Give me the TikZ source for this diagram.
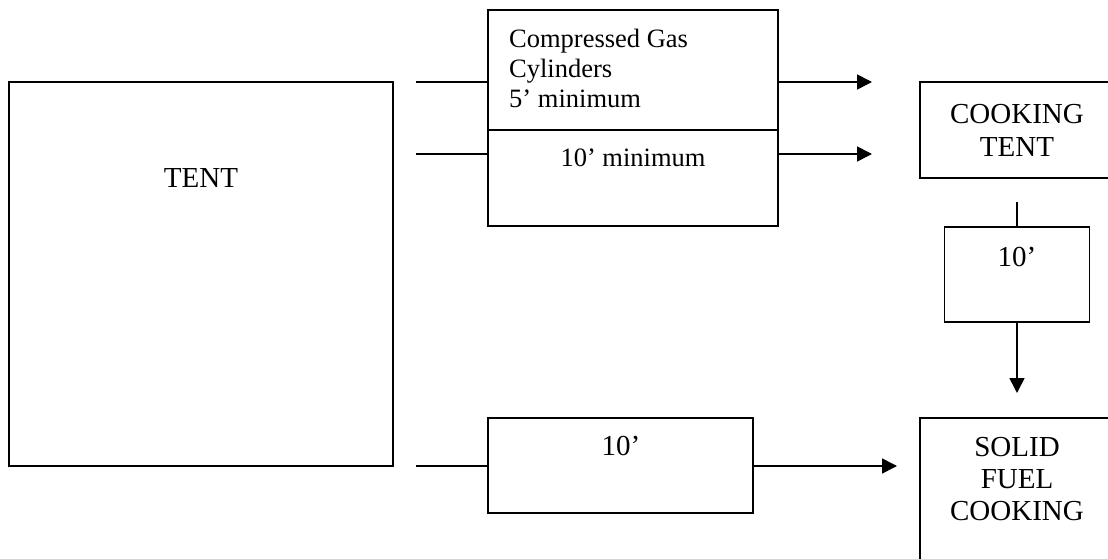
\documentclass[tikz,border=0pt]{standalone}
\usepackage{fontspec}
\setmainfont{Liberation Serif}
\usetikzlibrary{arrows.meta, positioning}
\definecolor{lineMain}{RGB}{0,0,0}
\tikzset{
  planBox/.style={
    draw=lineMain,
    line width=1.6pt,
    inner sep=0pt,
    align=center,
    font=\fontsize{29}{33}\selectfont
  },
  planLabel/.style={inner sep=0pt, align=center, font=\fontsize{29}{32}\selectfont},
  smallLabel/.style={planLabel, font=\fontsize{26.5}{30}\selectfont},
  planLine/.style={draw=lineMain, line width=1.6pt},
  planFlow/.style={planLine, -{Triangle[length=15pt,width=15pt]}}
}
\begin{document}
\begin{tikzpicture}[x=1pt, y=-1pt]
  \useasboundingbox (0,0) rectangle (1108,559);

  \node[planBox, minimum width=384pt, minimum height=384pt] (tent) at (201,274) {};
  \node[planLabel] (tentText) at (201,178) {TENT};

  \node[planBox, minimum width=290pt, minimum height=120pt] (cylTop) at (633,70) {};
  \node[planBox, minimum width=290pt, minimum height=96pt] (cylLow) at (633,178) {};
  \node[smallLabel, align=left, anchor=north west] (cylText) at (509,29) {Compressed Gas\\Cylinders\\5’ minimum};
  \node[smallLabel] (cylGap) at (633,158) {10’ minimum};

  \node[planBox, minimum width=194pt, minimum height=96pt] (cook) at (1017,130) {COOKING\\TENT};

  \node[planBox, minimum width=145pt, minimum height=95pt] (gapBox) at (1017,274.5) {};
  \node[planLabel] (gapText) at (1017,256.5) {10’};

  \node[planBox, minimum width=194pt, minimum height=160pt] (solid) at (1017,498) {};
  \node[planLabel, anchor=north] (solidText) at (1017,437) {SOLID\\FUEL\\COOKING};

  \node[planBox, minimum width=265pt, minimum height=95pt] (fireBox) at (620.5,465.5) {};
  \node[planLabel] (fireText) at (621,446) {10’};

  \coordinate (inTop) at (416,82);
  \coordinate (inMid) at (416,154);
  \coordinate (inLow) at (416,466);
  \coordinate (outTop) at (872,82);
  \coordinate (outMid) at (872,154);
  \coordinate (outLow) at (897,466);
  \coordinate (gapStart) at (1017,202);
  \coordinate (gapEnd) at (1017,393);

  \draw[planLine] (inTop) -- (inTop -| cylTop.west);
  \draw[planFlow] (outTop -| cylTop.east) -- (outTop);
  \draw[planLine] (inMid) -- (inMid -| cylLow.west);
  \draw[planFlow] (outMid -| cylLow.east) -- (outMid);
  \draw[planLine] (inLow) -- (inLow -| fireBox.west);
  \draw[planFlow] (fireBox.east |- outLow) -- (outLow);
  \draw[planLine] (gapStart) -- (gapBox.north);
  \draw[planFlow] (gapBox.south) -- (gapEnd);
\end{tikzpicture}
\end{document}
